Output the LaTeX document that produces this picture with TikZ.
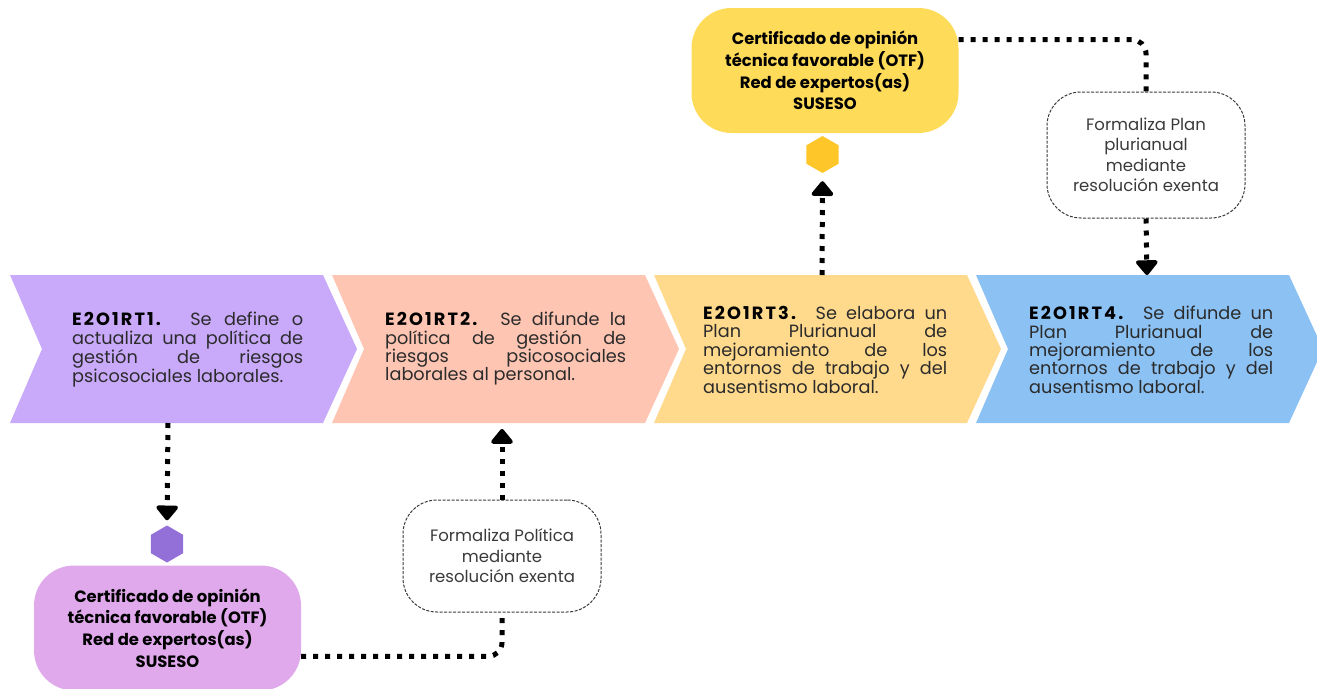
\documentclass[tikz,border=0pt]{standalone}
\usepackage{fontspec}
\setmainfont{Poppins}
\usetikzlibrary{arrows.meta,shapes.geometric}
\definecolor{chA}{HTML}{C8A9FA}
\definecolor{chB}{HTML}{FFC5B3}
\definecolor{chC}{HTML}{FFD98C}
\definecolor{chD}{HTML}{8BC1F3}
\definecolor{certY}{HTML}{FFDB5A}
\definecolor{hexYc}{HTML}{FFC629}
\definecolor{hexPc}{HTML}{9370D8}
\definecolor{certP}{HTML}{E0A9EC}
\definecolor{txt}{HTML}{2B2B2B}
\definecolor{gtxt}{HTML}{3A3A3A}
\newcommand\rtid[1]{{\bfseries\addfontfeatures{LetterSpace=12}\color{black}#1}}
\begin{document}
\begin{tikzpicture}[x=1pt,y=-1pt,
  chevtext/.style={anchor=north west,inner sep=0pt,align=left,text=txt,
    font=\fontsize{17.7}{18.4}\selectfont},
  certbox/.style={rounded corners=40pt,minimum width=267pt,minimum height=125pt,
    align=center,inner sep=0pt,text=black,font=\bfseries\fontsize{16.4}{21.6}\selectfont},
  formbox/.style={draw=gtxt,line width=1pt,dash pattern=on 3pt off 1.5pt,rounded corners=34pt,
    minimum width=198pt,align=center,inner sep=0pt,text=gtxt,font=\fontsize{16.5}{20.5}\selectfont},
  hexa/.style={regular polygon,regular polygon sides=6,shape border rotate=30,
    minimum size=37pt,inner sep=0pt},
  conn/.style={line width=5pt,dash pattern=on 5pt off 7pt,black},
  arr/.style={-{Triangle[width=25pt,length=16pt,round]}}
]
\clip (0,0) rectangle (1317,688);
\useasboundingbox (0,0) rectangle (1317,688);
% chevrons
\foreach \x/\c in {10/chA,332/chB,654/chC,976/chD}
  \fill[\c] (\x,275) -- (\x+313,275) -- (\x+347,349) -- (\x+313,423) -- (\x,423) -- (\x+32,349) -- cycle;
\coordinate (c1s) at (168,423);
\coordinate (c2s) at (502,423);
\coordinate (c3n) at (822,275);
\coordinate (c4n) at (1147,275);
% chevron texts
\node[chevtext] (t1) at (72,312) {\makebox[231pt][s]{\rtid{E2O1RT1.} Se define o}\\
  \makebox[231pt][s]{actualiza una política de}\\
  \makebox[231pt][s]{gestión de riesgos}\\
  psicosociales laborales.};
\node[chevtext] (t2) at (385,312) {\makebox[241pt][s]{\rtid{E2O1RT2.} Se difunde la}\\
  \makebox[241pt][s]{política de gestión de}\\
  \makebox[241pt][s]{riesgos psicosociales}\\
  laborales al personal.};
\node[chevtext] (t3) at (703,306) {\makebox[244pt][s]{\rtid{E2O1RT3.} Se elabora un}\\
  \makebox[244pt][s]{Plan Plurianual de}\\
  \makebox[244pt][s]{mejoramiento de los}\\
  \makebox[244pt][s]{entornos de trabajo y del}\\
  ausentismo laboral.};
\node[chevtext] (t4) at (1029,306) {\makebox[244pt][s]{\rtid{E2O1RT4.} Se difunde un}\\
  \makebox[244pt][s]{Plan Plurianual de}\\
  \makebox[244pt][s]{mejoramiento de los}\\
  \makebox[244pt][s]{entornos de trabajo y del}\\
  ausentismo laboral.};
% certificate boxes
\node[certbox,fill=certY] (cy) at (825,70.5) {Certificado de opinión\\técnica favorable (OTF)\\Red de expertos(as)\\SUSESO};
\node[certbox,fill=certP] (cp) at (167.5,628) {Certificado de opinión\\técnica favorable (OTF)\\Red de expertos(as)\\SUSESO};
% hexagons
\node[hexa,fill=hexYc] (hy) at (822.5,154.5) {};
\node[hexa,fill=hexPc] (hp) at (167,544) {};
% formaliza boxes
\node[formbox,minimum height=126pt] (fplan) at (1146,155) {Formaliza Plan\\plurianual\\mediante\\resolución exenta};
\node[formbox,minimum height=112pt] (fpol) at (502,556) {Formaliza Política\\mediante\\resolución exenta};
% connectors
\draw[conn,arr,shorten >=8pt] (c3n) -- (hy.south);
\draw[conn,rounded corners=14pt] (cy.13.7) -| (fplan.north);
\draw[conn,arr] (fplan.south) -- (c4n);
\draw[conn,arr,shorten >=5pt] (c1s) -- (hp.north);
\draw[conn,rounded corners=14pt] (cp.-12.8) -| (fpol.south);
\draw[conn,arr,shorten >=6pt] (fpol.north) -- (c2s);
\end{tikzpicture}
\end{document}
